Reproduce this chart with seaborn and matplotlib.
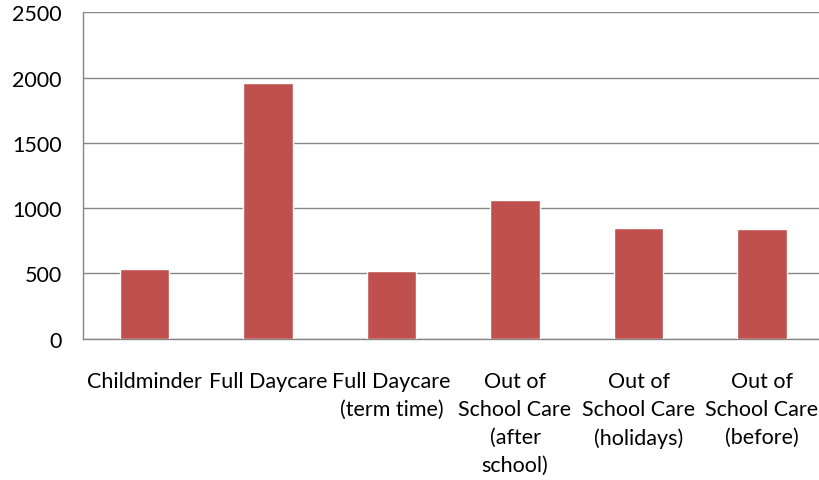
import matplotlib
matplotlib.use('Agg')
import matplotlib.pyplot as plt
import seaborn as sns
import pandas as pd

# data
categories = ['Childminder', 'Full Daycare', 'Full Daycare\n(term time)',
              'Out of\nSchool Care\n(after\nschool)', 'Out of\nSchool Care\n(holidays)',
              'Out of\nSchool Care\n(before)']
values = [530, 1960, 520, 1060, 850, 840]
y_ticks = [0, 500, 1000, 1500, 2000, 2500]

df = pd.DataFrame({'type': categories, 'count': values})

sns.set_style('white')
plt.rcParams['font.family'] = ['Lato', 'DejaVu Sans']

fig = plt.figure(figsize=(8.2, 4.81), dpi=100)
ax = fig.add_axes([0.101, 0.2938, 0.9036, 0.6785])

sns.barplot(data=df, x='type', y='count', color='#C0504D', saturation=1,
            width=0.4, ax=ax, zorder=3)

grid_col = '#868686'
ax.set_ylim(0, 2500)
ax.set_xlim(-0.5, len(categories) - 0.5)
ax.set_yticks(y_ticks)
ax.set_yticklabels([str(v) for v in y_ticks], fontsize=15.5, color='black')
ax.yaxis.grid(True, color=grid_col, linewidth=1.0, zorder=0)
ax.set_axisbelow(True)

# category boundaries get the tick marks
ax.set_xticks(range(len(categories)))
ax.set_xticklabels(categories, fontsize=15.5, va='top', ha='center', linespacing=1.5, color='black')
ax.set_xticks([i - 0.5 for i in range(len(categories))], minor=True)
ax.tick_params(axis='x', which='major', length=0, pad=23)
ax.tick_params(axis='x', which='minor', length=5.5, width=1.0, color=grid_col, direction='out')
ax.tick_params(axis='y', length=6, width=1.0, color=grid_col, direction='out', pad=9)
ax.set_xlabel('')
ax.set_ylabel('')

for s in ['top', 'right']:
    ax.spines[s].set_visible(False)
for s in ['left', 'bottom']:
    ax.spines[s].set_color(grid_col)
    ax.spines[s].set_linewidth(1.0)

fig.savefig('out.png', dpi=100)
